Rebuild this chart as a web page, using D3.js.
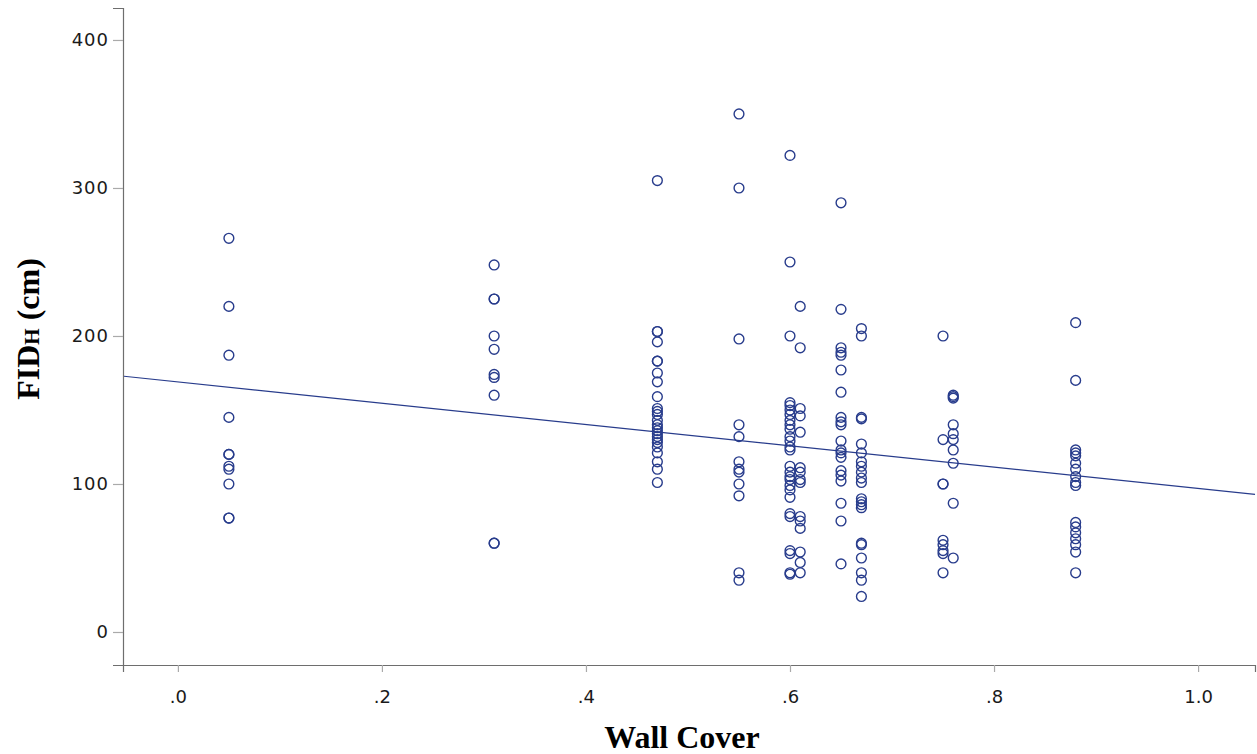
<!DOCTYPE html>
<html><head><meta charset="utf-8">
<script src="https://cdn.jsdelivr.net/npm/d3@7"></script>
<style>body{margin:0;background:#fff}svg{display:block}</style>
</head><body>
<svg id="c" width="1257" height="754"></svg>
<script>
// Wall cover categories and FID_H values (cm) per category
const wallCover = [0.05, 0.31, 0.47, 0.55, 0.60, 0.61, 0.65, 0.67, 0.75, 0.76, 0.88];
const fid005 = [266, 220, 187, 145, 120, 120, 112, 110, 100, 77, 77];
const fid031 = [248, 225, 225, 200, 191, 174, 172, 160, 60, 60];
const fid047 = [305, 203, 203, 196, 183, 183, 175, 169, 159, 151, 149, 147, 143, 140, 138, 136, 134, 132, 130, 128, 125, 121, 115, 110, 101];
const fid055 = [350, 300, 198, 140, 132, 115, 110, 108, 100, 92, 40, 35];
const fid060 = [322, 250, 200, 155, 153, 150, 147, 143, 140, 137, 132, 129, 125, 123, 112, 108, 105, 103, 99, 96, 91, 80, 78, 55, 53, 40, 39];
const fid061 = [220, 192, 151, 146, 135, 111, 108, 103, 101, 78, 75, 70, 54, 47, 40];
const fid065 = [290, 218, 192, 189, 187, 177, 162, 145, 142, 140, 129, 123, 121, 118, 109, 106, 102, 87, 75, 46];
const fid067 = [205, 200, 145, 144, 127, 121, 115, 112, 108, 104, 101, 90, 88, 86, 84, 60, 59, 50, 40, 35, 24];
const fid075 = [200, 130, 100, 100, 62, 59, 55, 53, 40];
const fid076 = [160, 159, 158, 140, 134, 130, 123, 114, 87, 50];
const fid088 = [209, 170, 123, 121, 119, 114, 110, 105, 101, 99, 74, 71, 67, 63, 59, 54, 40];
const fidSeries = [fid005, fid031, fid047, fid055, fid060, fid061, fid065, fid067, fid075, fid076, fid088];
// Fit line coefficients (intercept, slope)
const fitLine = [169, -72];
const xTicks = [0, 0.2, 0.4, 0.6, 0.8, 1.0];
const xTickLabels = [".0", ".2", ".4", ".6", ".8", "1.0"];
const yTicks = [0, 100, 200, 300, 400];

const points = [];
wallCover.forEach((w, i) => fidSeries[i].forEach(v => points.push({x: w, y: v})));

const svg = d3.select("#c");
const pL = 123, pR = 1255, pT = 8, pB = 665;
const x = d3.scaleLinear().domain([-0.0538, 1.0558]).range([pL, pR]);
const y = d3.scaleLinear().domain([-22.3, 421.6]).range([pB, pT]);
const navy = "#283c8c";

// axes
const xAxis = d3.axisBottom(x).tickValues(xTicks).tickFormat((d, i) => xTickLabels[i]).tickSizeOuter(0).tickSize(7).tickPadding(18);
const gx = svg.append("g").attr("transform", `translate(0,${pB})`).call(xAxis);
const yAxis = d3.axisLeft(y).tickValues(yTicks).tickSizeOuter(0).tickSize(10).tickPadding(4);
const gy = svg.append("g").attr("transform", `translate(${pL},0)`).call(yAxis);
[gx, gy].forEach(g => {
  g.select(".domain").attr("stroke", "#6e6e6e").attr("stroke-width", 1.2);
  g.selectAll(".tick line").attr("stroke", "#aaaaaa").attr("stroke-width", 1.2);
  g.selectAll(".tick text").attr("fill", "#1a1a1a").style("font-family", "'DejaVu Sans', sans-serif").style("font-size", "18px");
});
gy.selectAll(".tick text").style("letter-spacing", "1px");

// clip
svg.append("clipPath").attr("id", "clip").append("rect")
  .attr("x", pL + 1).attr("y", pT).attr("width", pR - pL).attr("height", pB - pT);

// fit line
const xd = x.domain();
svg.append("line").attr("clip-path", "url(#clip)")
  .attr("x1", x(xd[0])).attr("y1", y(fitLine[0] + fitLine[1] * xd[0]))
  .attr("x2", x(xd[1])).attr("y2", y(fitLine[0] + fitLine[1] * xd[1]))
  .attr("stroke", navy).attr("stroke-width", 1.2);

// points
svg.append("g").selectAll("circle").data(points).join("circle")
  .attr("cx", d => x(d.x)).attr("cy", d => y(d.y)).attr("r", 4.9)
  .attr("fill", "none").attr("stroke", navy).attr("stroke-width", 1.4);

// axis titles
svg.append("text").attr("x", 682).attr("y", 748).attr("text-anchor", "middle")
  .style("font-family", "'Liberation Serif', 'Times New Roman', serif").style("font-weight", "bold").style("font-size", "32px")
  .attr("fill", "#000").text("Wall Cover");
const yt = svg.append("text").attr("transform", "translate(39,329) rotate(-90)").attr("text-anchor", "middle")
  .style("font-family", "'Liberation Serif', 'Times New Roman', serif").style("font-weight", "bold").style("font-size", "32px")
  .attr("fill", "#000");
yt.append("tspan").text("FID");
yt.append("tspan").style("font-size", "21px").text("H");
yt.append("tspan").text(" (cm)");
</script>
</body></html>
